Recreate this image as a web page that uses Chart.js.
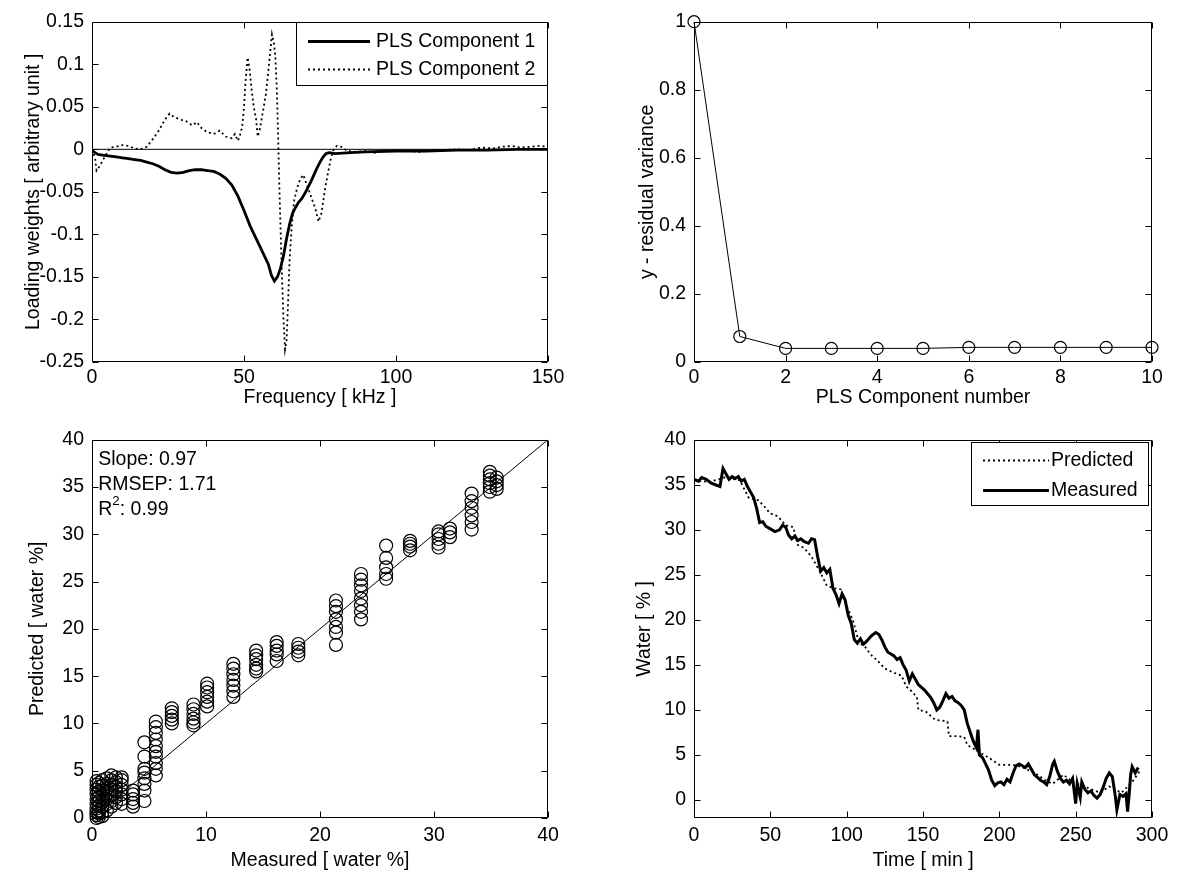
<!DOCTYPE html>
<html><head><meta charset="utf-8">
<script src="https://cdn.jsdelivr.net/npm/chart.js@4.4.0/dist/chart.umd.min.js"></script>
<style>
html,body{margin:0;padding:0;background:#fff;width:1182px;height:872px;overflow:hidden;}
canvas{position:absolute;}
</style></head><body>
<canvas id="c1"></canvas><canvas id="c2"></canvas><canvas id="c3"></canvas><canvas id="c4"></canvas>
<script>
// ---------- Panel 1: PLS loading weights ----------
const freq1 = [0,1,2,4,6,8,10,12,14,16,18,20,22,24,26,28,30,32,34,36,38,40,42,44,46,48,50,52,54,56,58,59,60,61,62,63,64,65,66,67,68,69,70,71,72,73,74,75,76,77,78,80,85,90,100,110,120,130,140,150];
const comp1 = [-0.001,-0.004,-0.006,-0.007,-0.008,-0.009,-0.010,-0.011,-0.012,-0.013,-0.015,-0.017,-0.020,-0.024,-0.027,-0.028,-0.027,-0.025,-0.024,-0.024,-0.025,-0.026,-0.029,-0.034,-0.042,-0.055,-0.072,-0.090,-0.105,-0.120,-0.135,-0.148,-0.155,-0.150,-0.140,-0.125,-0.105,-0.088,-0.075,-0.068,-0.062,-0.058,-0.052,-0.045,-0.038,-0.030,-0.022,-0.015,-0.009,-0.005,-0.004,-0.005,-0.004,-0.003,-0.002,-0.002,-0.001,-0.001,0,0];
const freq2 = [0,1,1.5,2.5,4,6,8,10,12,14,16,18,20,22,24,25.5,27,29,31,33,34.5,36,38,40,42,44,46,47,48,49,49.5,50,50.5,51.2,51.8,52.5,53.2,54,54.5,55.3,56,56.5,57.2,57.8,58.5,59.2,59.8,60.3,60.8,61.2,61.6,62,62.5,63,63.5,64,64.5,65,65.7,66.5,67.5,68.5,69.5,70.5,71.5,72.5,73.5,74.5,75.5,76.5,77.5,78.5,79.5,80.5,82,84,87,90,93,96,100,104,108,112,116,120,124,128,132,135,138,141,144,147,150];
const comp2 = [0,-0.010,-0.025,-0.020,-0.010,0.002,0.003,0.005,0.004,0.001,0,0.003,0.012,0.022,0.035,0.042,0.038,0.035,0.033,0.028,0.032,0.025,0.020,0.018,0.022,0.015,0.013,0.018,0.010,0.020,0.030,0.050,0.080,0.108,0.095,0.070,0.050,0.035,0.015,0.025,0.040,0.050,0.065,0.085,0.110,0.135,0.125,0.110,0.070,0.020,-0.040,-0.090,-0.150,-0.200,-0.235,-0.225,-0.180,-0.130,-0.090,-0.060,-0.045,-0.035,-0.030,-0.040,-0.050,-0.060,-0.070,-0.085,-0.075,-0.050,-0.030,-0.012,0,0.004,0.003,-0.002,-0.003,-0.002,-0.004,-0.002,-0.001,-0.002,-0.003,-0.001,-0.001,0,-0.001,0.002,0.001,0.003,0.004,0.002,0.003,0.004,0.003];
const xTicks1 = [0,50,100,150];
const yTicks1 = [-0.25,-0.2,-0.15,-0.1,-0.05,0,0.05,0.1,0.15];

// ---------- Panel 2: residual variance ----------
const compNum = [0,1,2,3,4,5,6,7,8,9,10];
const residVar = [1.0,0.075,0.040,0.040,0.040,0.040,0.043,0.043,0.043,0.043,0.043];
const xTicks2 = [0,2,4,6,8,10];
const yTicks2 = [0,0.2,0.4,0.6,0.8,1];

// ---------- Panel 3: predicted vs measured ----------
const clusterX = [0.4,0.6,0.9,1.3,1.7,2.1,2.6,3.6,4.6,5.6,7.0,8.9,10.1,12.4,14.4,16.2,18.1,21.4,23.6,25.8,27.9,30.4,31.4,33.3,34.9,35.5];
const clusterY = [
 [0.0,0.3,0.6,1.0,1.5,2.0,2.5,3.0,3.5,3.9],
 [0.1,0.5,0.8,1.3,1.8,2.2,2.8,3.3,3.7],
 [0.2,0.6,1.2,1.7,2.3,2.9,3.4,4.0],
 [0.8,1.5,2.0,2.6,3.1,3.6,4.2],
 [1.2,1.8,2.4,3.0,3.5,4.0,4.5],
 [1.6,2.2,2.8,3.3,3.8,4.3],
 [1.5,2.0,2.5,3.0,3.5,4.0,4.3],
 [1.2,1.6,2.0,2.5,2.9],
 [1.8,2.9,3.6,4.2,4.8,5.2,6.5,8.0],
 [4.5,5.2,5.8,6.5,7.0,7.6,8.3,9.0,9.6,10.2],
 [10.0,10.4,10.8,11.2,11.6],
 [9.8,10.1,10.5,11.0,11.5,12.0],
 [11.8,12.3,12.8,13.3,13.8,14.2],
 [12.8,13.4,14.0,14.6,15.2,15.8,16.3],
 [15.5,15.8,16.2,16.8,17.2,17.7],
 [16.6,17.3,17.7,18.2,18.6],
 [17.2,17.6,18.0,18.4],
 [18.3,19.6,20.2,21.0,21.8,22.4,23.0],
 [21.0,21.8,22.5,23.2,24.0,24.6,25.2,25.8],
 [25.3,25.8,26.5,27.5,28.8],
 [28.3,28.7,29.0,29.3],
 [28.6,29.0,29.5,30.0,30.3],
 [29.7,30.2,30.6],
 [30.5,31.3,32.0,32.8,33.5,34.3],
 [34.5,35.0,35.4,35.8,36.2,36.6],
 [34.8,35.2,35.6,36.0]
];
const identityX = [0,40];
const xTicks3 = [0,10,20,30,40];
const yTicks3 = [0,5,10,15,20,25,30,35,40];
const statText = ['Slope: 0.97','RMSEP: 1.71','0.99'];

// ---------- Panel 4: water vs time ----------
const timeM = [0,3,5,8,11,14,17,19,21,23,25,27,29,31,33,35,37,39,41,43,45,47,50,53,56,58,60,62,64,66,68,70,72,75,77,79,81,83,85,87,89,91,93,95,97,99,101,103,105,107,109,111,113,116,119,121,123,125,127,129,131,133,135,137,139,141,143,145,147,149,151,153,155,157,159,161,163,165,167,169,171,173,175,177,179,181,183,185,186,187,189,191,193,195,197,199,201,203,205,207,209,211,213,215,217,219,221,223,225,227,229,231,233,235,236,238,240,242,244,246,248,250,251,253,254,256,258,260,262,264,266,268,270,272,274,276,277,279,281,283,284,285,286,287,289,291];
const measured = [35.6,35.4,35.8,35.6,35.2,35.0,34.8,36.8,36.2,35.6,35.9,35.7,35.9,35.4,35.6,34.8,34.2,33.6,32.4,30.8,30.9,30.4,30.1,29.8,30.0,30.5,30.3,29.4,29.0,29.3,28.8,29.0,28.7,28.5,29.0,28.9,27.0,25.4,25.8,25.2,25.6,23.5,22.8,21.8,22.9,22.2,20.5,19.6,17.8,17.4,17.9,17.3,17.6,18.2,18.6,18.4,17.8,17.0,16.4,16.2,16.0,15.6,15.8,15.0,14.4,13.2,14.0,13.4,12.8,12.5,12.2,11.8,11.4,10.8,10.0,10.3,11.0,11.8,11.3,11.5,11.0,10.8,10.5,10.0,8.5,7.5,6.5,5.8,7.8,5.0,4.7,4.0,3.3,2.2,1.6,1.9,2.0,1.7,2.3,2.0,3.0,3.8,4.0,3.8,3.6,4.0,3.4,2.8,2.5,2.2,2.0,1.7,2.6,4.0,4.3,3.2,2.4,2.0,2.2,1.8,2.4,-0.4,1.8,0.3,2.0,1.2,0.8,1.0,0.5,0.2,0.6,1.4,2.4,3.0,2.6,0.4,-1.1,0.6,0.4,0.7,-1.3,0.5,2.8,3.7,3.0,3.6];
const timeP = [0,10,20,30,36,42,46,50,55,60,65,68,72,77,82,87,92,96,100,104,108,112,116,120,125,130,136,139,143,146,147,152,158,163,166,167,172,177,179,185,190,193,200,207,212,217,225,230,235,242,248,254,260,266,272,280,287,292];
const predicted = [35.5,35.3,35.8,35.5,33.5,33.3,32.6,31.8,31.5,30.5,30.3,28.3,28.0,27.0,25.5,23.8,23.5,23.4,21.5,20.0,17.5,17.0,16.1,15.5,14.6,14.2,13.8,12.6,12.0,11.4,10.0,9.8,8.9,8.8,8.7,7.1,7.1,7.0,6.1,5.5,5.0,4.7,3.9,3.9,3.8,3.5,2.8,2.2,1.8,2.8,2.0,1.6,1.2,0.8,1.5,0.8,2.0,3.2];
const xTicks4 = [0,50,100,150,200,250,300];
const yTicks4 = [0,5,10,15,20,25,30,35,40];

// ---------- helpers ----------
const FONT = '"Liberation Sans", Arial, Helvetica, sans-serif';
const FS = 19.5;
Chart.defaults.font.family = FONT;
Chart.defaults.font.size = FS;
Chart.defaults.color = '#000';
Chart.defaults.animation = false;

const pts = (xs, ys) => xs.map((x, i) => ({x, y: ys[i]}));
const fmt = v => String(+(+v).toFixed(2));

const framePlugin = {
  id: 'frame',
  afterDatasetsDraw(chart) {
    const {ctx, chartArea: a} = chart;
    const xs = chart.scales.x, ys = chart.scales.y;
    const l = Math.round(a.left) + 0.5, r = Math.round(a.right) - 0.5;
    const t = Math.round(a.top) + 0.5, b = Math.round(a.bottom) - 0.5;
    ctx.save();
    ctx.strokeStyle = '#000'; ctx.lineWidth = 1; ctx.setLineDash([]);
    ctx.beginPath();
    ctx.rect(l, t, r - l, b - t);
    xs.ticks.forEach(tk => { const p = Math.round(xs.getPixelForValue(tk.value)) + 0.5;
      ctx.moveTo(p, b); ctx.lineTo(p, b - 6); ctx.moveTo(p, t); ctx.lineTo(p, t + 6); });
    ys.ticks.forEach(tk => { const p = Math.round(ys.getPixelForValue(tk.value)) + 0.5;
      ctx.moveTo(l, p); ctx.lineTo(l + 6, p); ctx.moveTo(r, p); ctx.lineTo(r - 6, p); });
    ctx.stroke();
    ctx.restore();
  }
};

const boxLegend = {
  id: 'boxLegend',
  afterDraw(chart, args, o) {
    if (!o || !o.items) return;
    const {ctx, chartArea: a} = chart;
    const x0 = Math.round(a.right - o.offsetRight - o.width), y0 = Math.round(a.top + o.offsetTop);
    ctx.save();
    ctx.fillStyle = '#fff'; ctx.fillRect(x0, y0, o.width, o.height);
    ctx.strokeStyle = '#000'; ctx.lineWidth = 1; ctx.setLineDash([]);
    ctx.strokeRect(x0 + 0.5, y0 + 0.5, o.width - 1, o.height - 1);
    ctx.font = FS + 'px ' + FONT; ctx.textBaseline = 'middle'; ctx.textAlign = 'left';
    o.items.forEach((di, i) => {
      const ds = chart.data.datasets[di];
      const y = Math.round(y0 + o.rowTop + i * o.rowGap) + 0.5;
      ctx.beginPath(); ctx.setLineDash(ds.borderDash || []);
      ctx.lineWidth = ds.borderWidth; ctx.strokeStyle = ds.borderColor;
      ctx.moveTo(x0 + o.lineStart, y); ctx.lineTo(x0 + o.lineEnd, y); ctx.stroke();
      ctx.setLineDash([]);
      ctx.fillStyle = '#000';
      ctx.fillText(ds.label, x0 + o.textStart, y);
    });
    ctx.restore();
  }
};

const statsPlugin = {
  id: 'stats',
  afterDatasetsDraw(chart, args, o) {
    if (!o || !o.lines) return;
    const {ctx} = chart;
    const xs = chart.scales.x, ys = chart.scales.y;
    ctx.save();
    ctx.fillStyle = '#000'; ctx.textBaseline = 'middle'; ctx.textAlign = 'left';
    ctx.font = FS + 'px ' + FONT;
    const x = xs.getPixelForValue(o.x);
    ctx.fillText(o.lines[0], x, ys.getPixelForValue(o.ys[0]));
    ctx.fillText(o.lines[1], x, ys.getPixelForValue(o.ys[1]));
    const y3 = ys.getPixelForValue(o.ys[2]);
    ctx.fillText('R', x, y3);
    const wR = ctx.measureText('R').width;
    ctx.font = (FS * 0.68) + 'px ' + FONT;
    ctx.fillText('2', x + wR, y3 - 8);
    const w2 = ctx.measureText('2').width;
    ctx.font = FS + 'px ' + FONT;
    ctx.fillText(': ' + o.lines[2], x + wR + w2, y3);
    ctx.restore();
  }
};

function place(id, box, wy, hx, padTop, padRight) {
  const c = document.getElementById(id);
  const left = box.L - wy, top = box.T - padTop;
  const w = box.R - left + padRight, h = box.B - top + hx;
  c.style.left = left + 'px'; c.style.top = top + 'px';
  c.width = w; c.height = h; c.style.width = w + 'px'; c.style.height = h + 'px';
  return c;
}

function axes(xmin, xmax, xt, xtitle, ymin, ymax, yt, ytitle, wy, hx, tpad) {
  return {
    x: {type: 'linear', min: xmin, max: xmax,
        grid: {display: false, drawTicks: false}, border: {display: false},
        ticks: {padding: tpad, maxRotation: 0, autoSkip: false, callback: fmt},
        afterBuildTicks: s => { s.ticks = xt.map(v => ({value: v})); },
        afterFit: s => { s.height = hx; },
        title: {display: true, text: xtitle, padding: {top: 0, bottom: 0}}},
    y: {type: 'linear', min: ymin, max: ymax,
        grid: {display: false, drawTicks: false}, border: {display: false},
        ticks: {padding: 8, autoSkip: false, callback: fmt},
        afterBuildTicks: s => { s.ticks = yt.map(v => ({value: v})); },
        afterFit: s => { s.width = wy; },
        title: {display: true, text: ytitle, padding: {top: 0, bottom: 0}}}
  };
}

function makeChart(id, box, wy, hx, datasets, scales, plugins) {
  const padTop = 15, padRight = 25;
  const c = place(id, box, wy, hx, padTop, padRight);
  return new Chart(c, {
    type: 'scatter',
    data: {datasets},
    options: {
      responsive: false, devicePixelRatio: 1, animation: false,
      layout: {padding: {top: padTop, right: padRight, left: 0, bottom: 0}},
      scales,
      plugins: Object.assign({legend: {display: false}, tooltip: {enabled: false}}, plugins)
    },
    plugins: [framePlugin, statsPlugin, boxLegend]
  });
}

const lineDs = (label, data, width, dash) => ({
  label, data, showLine: true, borderColor: '#000', backgroundColor: '#000',
  borderWidth: width, borderDash: dash || [], pointRadius: 0, tension: 0
});

// Panel 1
const box1 = {L: 92, T: 17, R: 548, B: 362};
makeChart('c1', box1, 70, 47, [
  lineDs('zero', pts([0, 150], [0, 0]), 1),
  lineDs('PLS Component 1', pts(freq1, comp1), 2.8),
  lineDs('PLS Component 2', pts(freq2, comp2), 1.8, [2, 3])
], axes(0, 150, xTicks1, 'Frequency [ kHz ]', -0.25, 0.15, yTicks1, 'Loading weights [ arbitrary unit ]', 70, 47, 4),
{boxLegend: {items: [1, 2], width: 252, height: 64, offsetRight: 0, offsetTop: 0, rowTop: 19, rowGap: 28, lineStart: 12, lineEnd: 74, textStart: 80}});

// Panel 2
const box2 = {L: 694, T: 17, R: 1152, B: 362};
makeChart('c2', box2, 58, 47, [
  {label: 'resid', data: pts(compNum, residVar), showLine: true, borderColor: '#000', backgroundColor: 'rgba(0,0,0,0)',
   borderWidth: 1, pointRadius: 6, pointBorderWidth: 1.2, pointBorderColor: '#000', pointBackgroundColor: 'rgba(0,0,0,0)', clip: false}
], axes(0, 10, xTicks2, 'PLS Component number', 0, 1, yTicks2, 'y - residual variance', 58, 47, 4), {});

// Panel 3
const scatterPts = [];
clusterX.forEach((x, i) => clusterY[i].forEach(y => scatterPts.push({x, y})));
const box3 = {L: 92, T: 435, R: 548, B: 818};
makeChart('c3', box3, 66, 54, [
  lineDs('identity', pts(identityX, identityX), 1),
  {label: 'samples', data: scatterPts, showLine: false, pointRadius: 6.5, pointBorderWidth: 1.2,
   pointBorderColor: '#000', pointBackgroundColor: 'rgba(0,0,0,0)', borderColor: '#000', clip: false}
], axes(0, 40, xTicks3, 'Measured [ water %]', 0, 40, yTicks3, 'Predicted [ water %]', 66, 54, 6),
{stats: {x: 0.55, ys: [37.9, 35.3, 32.6], lines: statText}});

// Panel 4
const box4 = {L: 694, T: 435, R: 1152, B: 818};
makeChart('c4', box4, 61, 54, [
  lineDs('Predicted', pts(timeP, predicted), 1.8, [2, 3]),
  lineDs('Measured', pts(timeM, measured), 3)
], axes(0, 300, xTicks4, 'Time [ min ]', -2, 40, yTicks4, 'Water [ % ]', 61, 54, 6),
{boxLegend: {items: [0, 1], width: 178, height: 64, offsetRight: 3, offsetTop: 2, rowTop: 18, rowGap: 30, lineStart: 12, lineEnd: 78, textStart: 80}});
</script>
</body></html>
